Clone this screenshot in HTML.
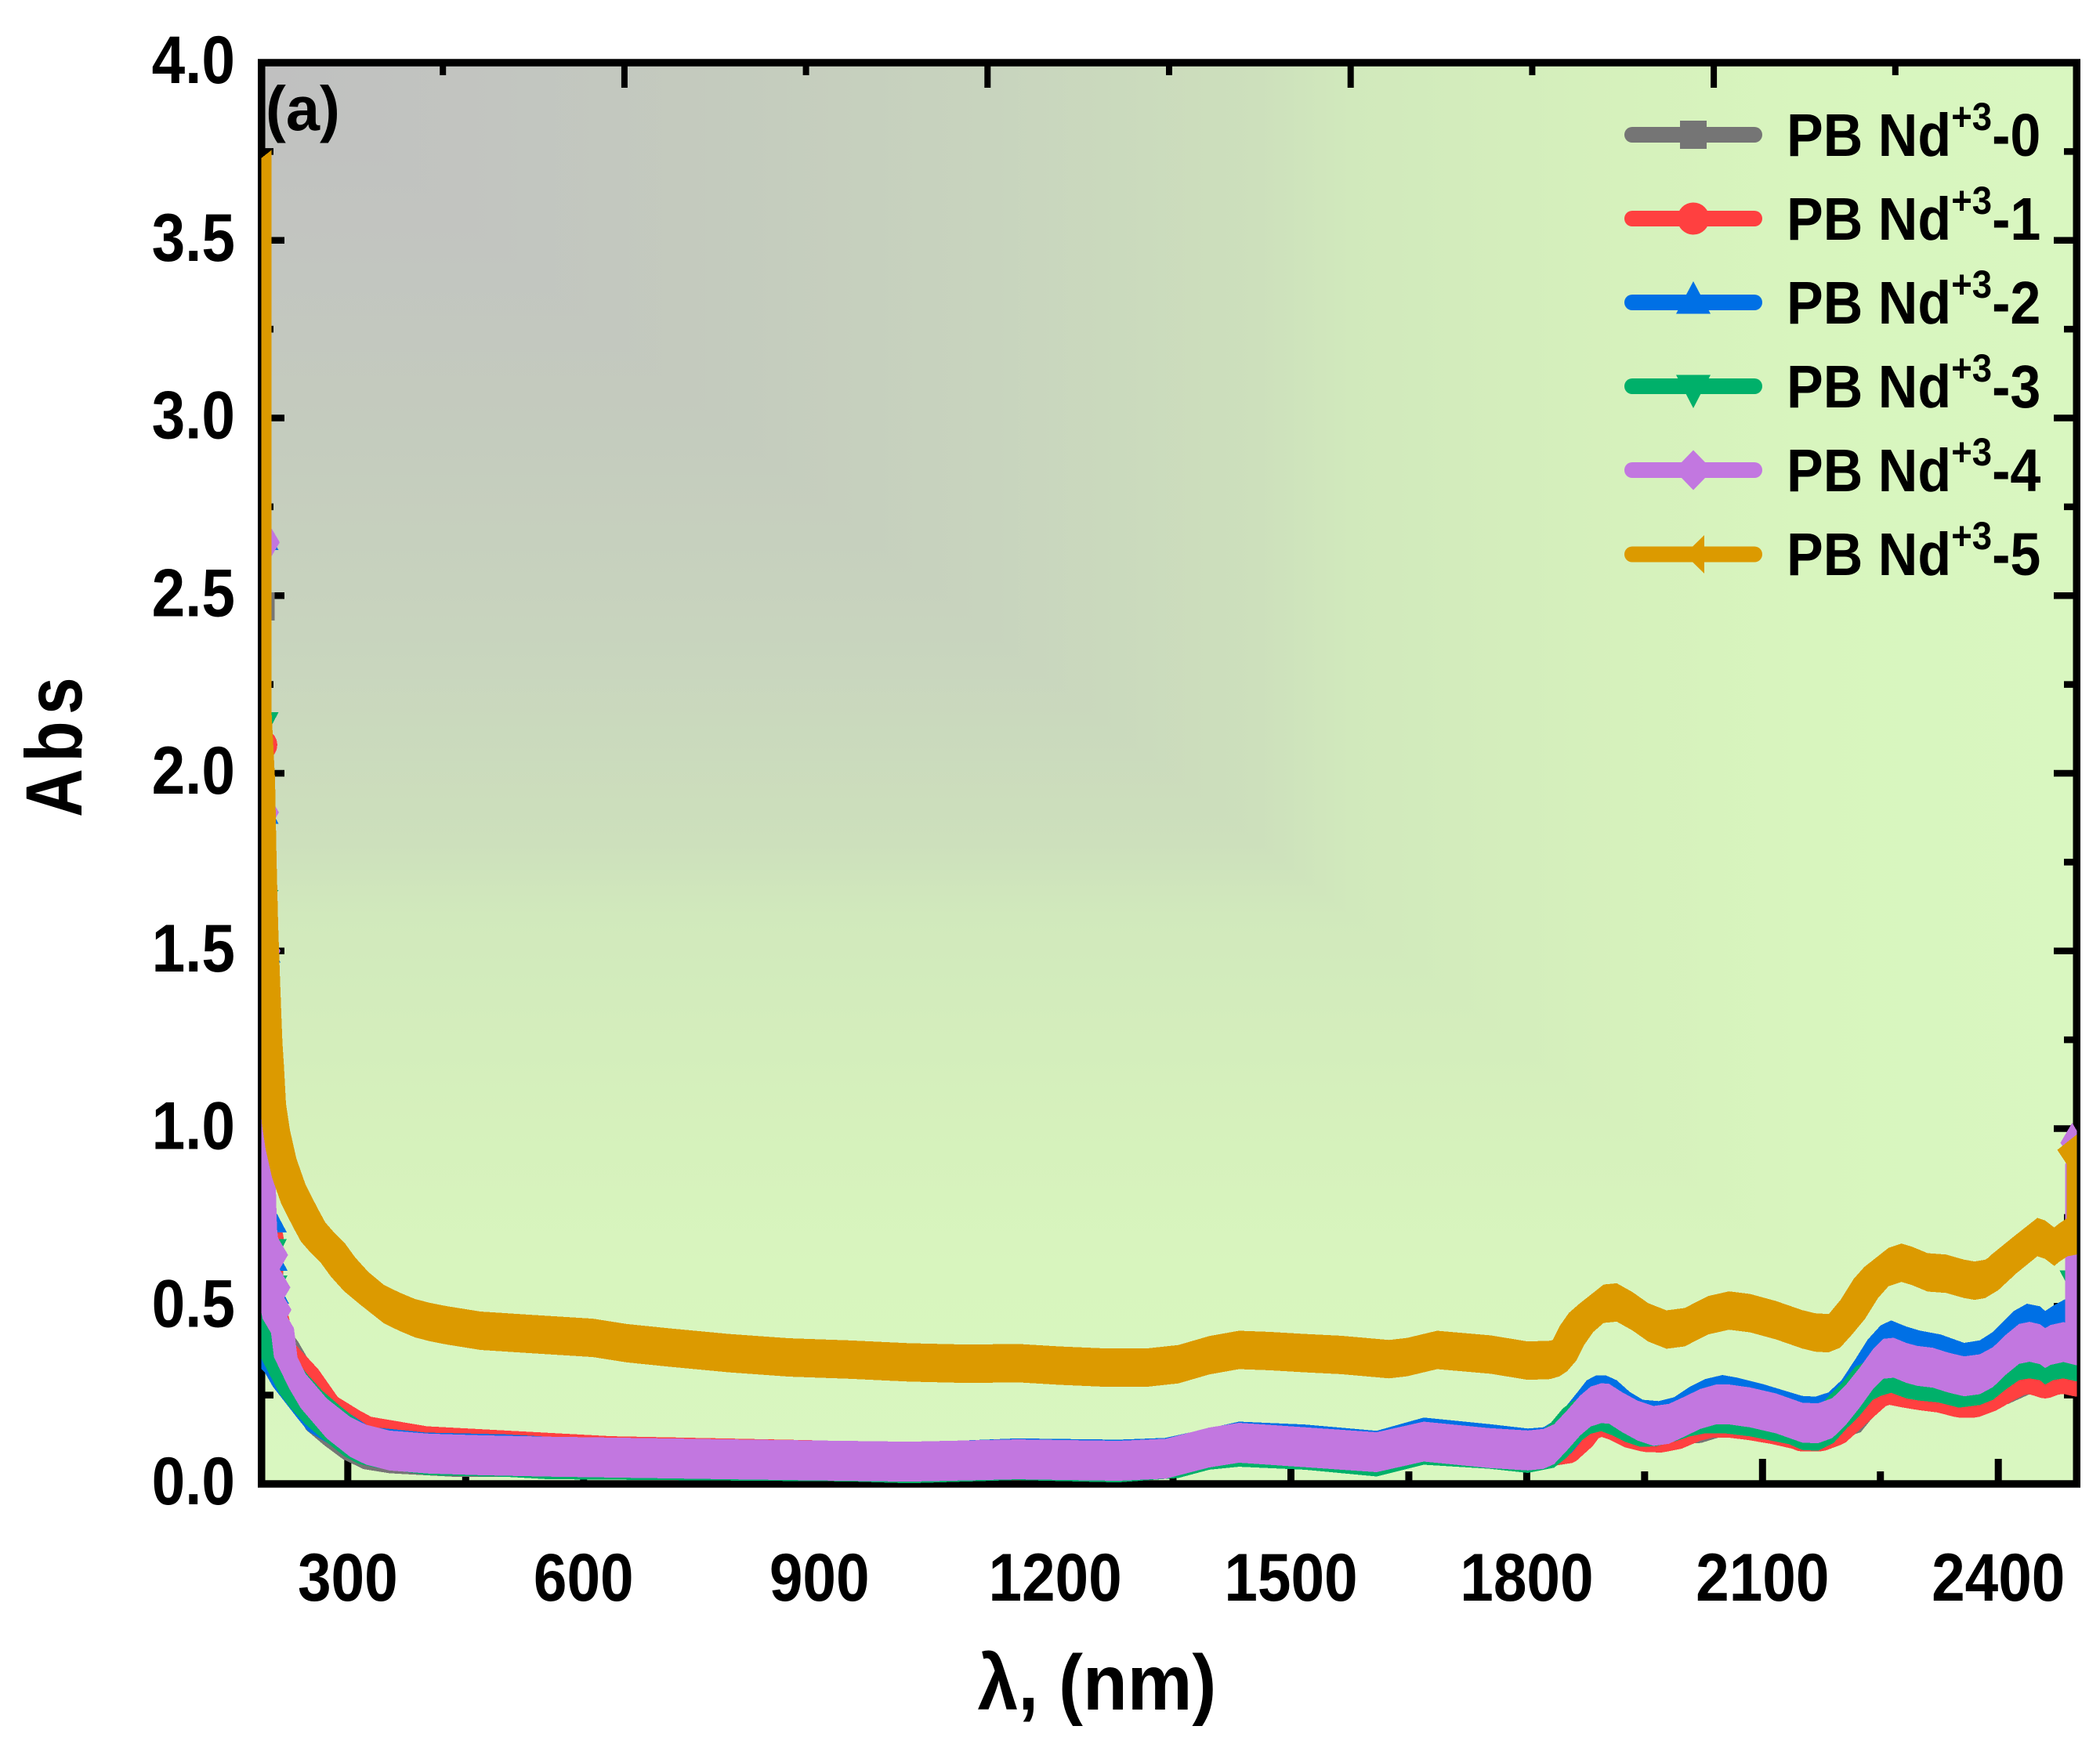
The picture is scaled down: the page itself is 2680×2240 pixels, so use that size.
<!DOCTYPE html>
<html lang="en">
<head>
<meta charset="utf-8">
<title>Abs vs wavelength</title>
<style>
html,body{margin:0;padding:0;background:#fff;}
svg{display:block;}
text{font-family:"Liberation Sans",Arial,sans-serif;font-weight:700;fill:#000;}
</style>
</head>
<body>
<svg id="chart" xmlns="http://www.w3.org/2000/svg" width="2680" height="2240" viewBox="0 0 2680 2240">
  <defs>
    <linearGradient id="bgH" gradientUnits="userSpaceOnUse" x1="338" y1="0" x2="2646" y2="0">
      <stop offset="0" stop-color="#c0c0c0"/>
      <stop offset="0.13" stop-color="#c2c5c0"/>
      <stop offset="0.25" stop-color="#c4cbbe"/>
      <stop offset="0.4" stop-color="#c8d4be"/>
      <stop offset="0.55" stop-color="#cde0bc"/>
      <stop offset="0.6" stop-color="#d1e9bc"/>
      <stop offset="0.75" stop-color="#d6f1bc"/>
      <stop offset="0.85" stop-color="#d8f5be"/>
      <stop offset="1" stop-color="#d9f7c0"/>
    </linearGradient>
    <linearGradient id="bgV" gradientUnits="userSpaceOnUse" x1="0" y1="85" x2="0" y2="1889">
      <stop offset="0" stop-color="#c0c0c0"/>
      <stop offset="0.13" stop-color="#c2c5c0"/>
      <stop offset="0.25" stop-color="#c4cbbe"/>
      <stop offset="0.4" stop-color="#c8d4be"/>
      <stop offset="0.55" stop-color="#cde0bc"/>
      <stop offset="0.6" stop-color="#d1e9bc"/>
      <stop offset="0.75" stop-color="#d6f1bc"/>
      <stop offset="0.85" stop-color="#d8f5be"/>
      <stop offset="1" stop-color="#d9f7c0"/>
    </linearGradient>
    <clipPath id="plotClip"><rect x="333.5" y="80" width="2317" height="1814"/></clipPath>
  </defs>
  <g>
    <rect x="333.5" y="80" width="2317" height="1814" fill="#d9f7c0"/>
    <polygon points="333.5,80 2650.5,80 2650.5,1892 " fill="url(#bgH)" shape-rendering="crispEdges"/>
    <polygon points="333.5,80 2650.5,1892 2650.5,1894 333.5,1894" fill="url(#bgV)" shape-rendering="crispEdges"/>
  </g>
  <g id="ticks"></g>
  <rect x="333.75" y="80" width="2316.5" height="1814" fill="none" stroke="#000" stroke-width="9.5"/>
  <g id="tickLabels"></g>
  <g id="series" clip-path="url(#plotClip)"></g>

  <text transform="translate(339 166) scale(.97 1)" font-size="80">(a)</text>
  <text transform="translate(104 1043) rotate(-90) scale(.84 1)" font-size="102" letter-spacing="10">Abs</text>
  <text transform="translate(1400 2182) scale(.93 1)" font-size="100" text-anchor="middle">λ, (nm)</text>

  <g>
    <g>
      <line x1="2083" x2="2239" y1="172" y2="172" stroke="#757575" stroke-width="20" stroke-linecap="round"/>
      <rect x="2144" y="154" width="34" height="36" fill="#757575"/>
      <text transform="translate(2280 199) scale(.91 1)" font-size="77">PB Nd<tspan font-size="50" dy="-33">+3</tspan><tspan font-size="77" dy="33">-0</tspan></text>
    </g>
    <g>
      <line x1="2083" x2="2239" y1="279" y2="279" stroke="#ff4040" stroke-width="20" stroke-linecap="round"/>
      <circle cx="2161" cy="279" r="20.5" fill="#ff4040"/>
      <text transform="translate(2280 306) scale(.91 1)" font-size="77">PB Nd<tspan font-size="50" dy="-33">+3</tspan><tspan font-size="77" dy="33">-1</tspan></text>
    </g>
    <g>
      <line x1="2083" x2="2239" y1="386" y2="386" stroke="#0070e5" stroke-width="20" stroke-linecap="round"/>
      <polygon points="2161,359 2183,400.5 2139,400.5" fill="#0070e5"/>
      <text transform="translate(2280 413) scale(.91 1)" font-size="77">PB Nd<tspan font-size="50" dy="-33">+3</tspan><tspan font-size="77" dy="33">-2</tspan></text>
    </g>
    <g>
      <line x1="2083" x2="2239" y1="493" y2="493" stroke="#00b06a" stroke-width="20" stroke-linecap="round"/>
      <polygon points="2161,521 2183,478.5 2139,478.5" fill="#00b06a"/>
      <text transform="translate(2280 520) scale(.91 1)" font-size="77">PB Nd<tspan font-size="50" dy="-33">+3</tspan><tspan font-size="77" dy="33">-3</tspan></text>
    </g>
    <g>
      <line x1="2083" x2="2239" y1="600" y2="600" stroke="#c277e0" stroke-width="20" stroke-linecap="round"/>
      <polygon points="2161,574.5 2176,590 2176,610 2161,625.5 2146,610 2146,590" fill="#c277e0"/>
      <text transform="translate(2280 627) scale(.91 1)" font-size="77">PB Nd<tspan font-size="50" dy="-33">+3</tspan><tspan font-size="77" dy="33">-4</tspan></text>
    </g>
    <g>
      <line x1="2083" x2="2239" y1="707.5" y2="707.5" stroke="#dc9a00" stroke-width="20" stroke-linecap="round"/>
      <polygon points="2150,707.5 2175,683 2175,732" fill="#dc9a00"/>
      <text transform="translate(2280 734) scale(.91 1)" font-size="77">PB Nd<tspan font-size="50" dy="-33">+3</tspan><tspan font-size="77" dy="33">-5</tspan></text>
    </g>
  </g>
</svg>
<script>
/* axis tick values */
const xMajorTicks = [300, 600, 900, 1200, 1500, 1800, 2100, 2400];
const xMinorTicks = [450, 750, 1050, 1350, 1650, 1950, 2250];
const topTicks = [421, 652, 883, 1114, 1345, 1576, 1807, 2038, 2269];
const yMajorTicks = [0, 0.5, 1, 1.5, 2, 2.5, 3, 3.5, 4];
const yMinorTicks = [0.25, 0.75, 1.25, 1.75, 2.25, 2.75, 3.25, 3.75];
const xTickLabels = ["300", "600", "900", "1200", "1500", "1800", "2100", "2400"];
const yTickLabels = ["0.0", "0.5", "1.0", "1.5", "2.0", "2.5", "3.0", "3.5", "4.0"];

/* PB Nd+3-0 */
const s0Nm = [190,220,264,287,311,337,370,450,600,900,1200,1400,1434,1518,1609,1669,1752,1801,1834.5,1848,1871,1896,1920,1950,2005,2049,2099,2158,2208,2230,2258,2322,2362,2396,2441,2481,2500];
const s0Abs = [0.45,0.36,0.1917,0.1484,0.109,0.0814,0.0696,0.06,0.058,0.055,0.06,0.09,0.1,0.095,0.08,0.105,0.09,0.085,0.0963,0.1257,0.165,0.19,0.17,0.15,0.155,0.185,0.17,0.15,0.185,0.245,0.285,0.265,0.245,0.265,0.31,0.31,0.305];
const s0SpikeNm = [190,190,198.5,201];
const s0SpikeAbs = [2.47,1.82,0.698,0.6];

/* PB Nd+3-1 */
const s1Nm = [190,198,204,215,246,273,303,323,400,635,885,1100,1300,1396,1434,1518,1609,1669,1752,1801,1851.4,1868,1878,1894.6,1911.3,1931.2,1951.1,1971,1991,2014.3,2034.2,2057.5,2084,2117.3,2143.9,2150.6,2173.9,2193.8,2210.4,2230.4,2247,2260.3,2283.5,2300.1,2326.7,2350,2369.9,2389.9,2409.8,2426.4,2439.7,2453,2459.6,2472.9,2486.2,2500];
const s1Abs = [0.7,0.55,0.47,0.37,0.296,0.211,0.17,0.146,0.117,0.089,0.078,0.066,0.066,0.095,0.105,0.098,0.08,0.105,0.09,0.085,0.1018,0.1349,0.1643,0.1805,0.168,0.1459,0.1349,0.1334,0.1422,0.1643,0.1753,0.1753,0.168,0.1555,0.1422,0.1363,0.137,0.1532,0.1863,0.2268,0.2598,0.2687,0.2584,0.2525,0.2451,0.2319,0.2319,0.2488,0.2745,0.2929,0.2988,0.2907,0.2856,0.2966,0.298,0.2907];
const s1SpikeNm = [190,190,198,197.5];
const s1SpikeAbs = [2.08,1.61,0.692,0.6];

/* PB Nd+3-2 */
const s2Nm = [190,192,216.5,226.5,258.5,271.5,301,328,400,500,555,785,1014,1152,1280,1340,1434,1518,1609,1669,1752,1801.6,1821.5,1834.8,1851.4,1864.7,1876.4,1888,1901.3,1914.6,1931.2,1947.8,1967.8,1987.7,2007.6,2027.6,2049.2,2067.4,2100.7,2133.9,2150.6,2167.2,2183.8,2200.4,2217,2233.7,2250.3,2263.6,2283.5,2300.1,2326.7,2356.6,2376.6,2393.2,2406.5,2419.8,2436.4,2453,2459.6,2469.6,2487.9,2500];
const s2Abs = [0.5,0.4,0.345,0.306,0.2153,0.18,0.1405,0.1011,0.085,0.08,0.0735,0.065,0.057,0.0685,0.065,0.07,0.1157,0.1075,0.09,0.1273,0.109,0.0963,0.0999,0.1184,0.1625,0.1992,0.2323,0.2455,0.2455,0.2323,0.1992,0.1772,0.1735,0.1845,0.2139,0.236,0.247,0.2396,0.2213,0.1992,0.1882,0.186,0.1977,0.2323,0.2874,0.3462,0.3866,0.4006,0.383,0.3719,0.3609,0.3374,0.3447,0.3683,0.3977,0.4271,0.4476,0.4403,0.4271,0.4418,0.4638,0.5];
const s2SpikeNm = [190,190,192.5,200.5,201.5,203.5,204.5];
const s2SpikeAbs = [2.66,1.89,1.5,0.74,0.632,0.539,0.487];

/* PB Nd+3-3 */
const s3Nm = [190,195,213,226.5,246,269,296,313,336,403,503,555,938,1014,1150,1280,1357,1396,1434,1518,1609,1669,1752,1801.6,1834.8,1851.4,1868,1881.4,1894.6,1908,1924.6,1944.5,1964.4,1987.7,2007.6,2027.6,2050.8,2084,2117.3,2133.9,2150.6,2170.5,2190.5,2207.1,2223.7,2240.3,2250.3,2263.6,2283.5,2300.1,2323.4,2350,2376.6,2393.2,2409.8,2426.4,2439.7,2453,2459.6,2469.6,2482.9,2500];
const s3Abs = [0.45,0.395,0.316,0.2767,0.2295,0.186,0.139,0.119,0.1074,0.086,0.0815,0.075,0.0685,0.0635,0.0726,0.066,0.0784,0.1016,0.11,0.1016,0.0826,0.1157,0.1045,0.0926,0.1073,0.1367,0.1808,0.2029,0.2102,0.1992,0.1808,0.1661,0.1676,0.1808,0.1955,0.2043,0.2043,0.1955,0.1808,0.1735,0.1573,0.155,0.1772,0.2176,0.2543,0.2984,0.3094,0.3183,0.3021,0.2962,0.291,0.2764,0.2837,0.2984,0.3278,0.3536,0.3587,0.3536,0.3411,0.3536,0.3587,0.3499];
const s3SpikeNm = [190,190,192.5,200.5,201.5,2500];
const s3SpikeAbs = [2.14,1.64,1.325,0.657,0.555,0.569];

/* PB Nd+3-4 */
const s4Nm = [190,192,195,197,197.5,200.5,206.5,216.5,221,240,273,303,323,353,403,470,555,785,1014,1152,1280,1341,1396,1434,1518,1609,1669,1752,1801.6,1821.5,1834.8,1851.4,1868,1881.4,1894.6,1904.6,1921.2,1941.2,1961.1,1981,2001,2020.9,2040.9,2057.5,2084,2117.3,2150.6,2170.5,2188.8,2205.4,2223.7,2240.3,2253.6,2266.9,2283.5,2296.8,2316.8,2336.7,2356.6,2376.6,2393.2,2409.8,2426.4,2439.7,2453,2459.6,2466.3,2482.9,2500,2500];
const s4Abs = [1.3,0.95,0.72,0.68,0.6,0.53,0.465,0.4385,0.357,0.27,0.1846,0.1326,0.1106,0.094,0.0854,0.0806,0.0767,0.0693,0.0626,0.0693,0.065,0.071,0.1025,0.1157,0.1033,0.0892,0.119,0.101,0.0941,0.0985,0.1117,0.1507,0.1926,0.2176,0.2271,0.2257,0.2021,0.1779,0.1632,0.1691,0.1896,0.211,0.2235,0.2235,0.2154,0.1985,0.1724,0.1705,0.1852,0.2205,0.2712,0.3219,0.3521,0.355,0.3403,0.3322,0.3271,0.3131,0.3028,0.3087,0.3286,0.3638,0.394,0.3999,0.3932,0.3822,0.391,0.3991,0.3896,0.9];
const s4SpikeNm = [198.5,197.5,199.5,209,212,213.4,2494];
const s4SpikeAbs = [2.65,1.89,1.5,0.6445,0.5528,0.49,0.96];

/* PB Nd+3-5 */
const s5Nm = [190,190,194.5,196.5,198.5,200.5,202.5,204,206,208.4,213.4,221.7,233.4,248.4,258.3,270,283.3,296.6,313.2,333.1,353,373,392.9,412.9,456,522,599,642,696,772,849,925,1001,1077,1139,1192,1245,1306,1344,1383,1421,1459,1505,1551,1612,1635,1673,1741,1788.6,1817,1828.5,1838.5,1850,1860,1871.7,1885,1901.6,1921.6,1941.5,1964.8,1988,2018,2044.5,2071,2104,2137.6,2154,2170.9,2185.8,2200.8,2217.4,2234,2247.3,2263.9,2277.2,2297.1,2320.4,2343.7,2357,2370.3,2386.9,2410.1,2436.7,2446.7,2458.3,2465,2475,2488,2505,2505,2493];
const s5Abs = [3.7,2.12,1.93,1.7,1.52,1.39,1.27,1.186,1.118,1.0157,0.9421,0.8613,0.7878,0.7226,0.6822,0.6528,0.6234,0.583,0.5425,0.5058,0.4844,0.466,0.455,0.4462,0.431,0.4216,0.411,0.396,0.384,0.368,0.356,0.35,0.342,0.338,0.34,0.333,0.328,0.328,0.337,0.362,0.377,0.374,0.368,0.363,0.351,0.357,0.377,0.364,0.3469,0.3491,0.3565,0.3712,0.4006,0.4447,0.4815,0.5072,0.5108,0.4859,0.455,0.4344,0.441,0.4748,0.488,0.4807,0.4609,0.4351,0.4263,0.4241,0.4373,0.4741,0.5182,0.577,0.6101,0.6226,0.6137,0.5954,0.5917,0.577,0.5719,0.577,0.5991,0.6468,0.6946,0.6873,0.6674,0.6799,0.6946,0.7,0.72,0.9,0.94];
const s5SpikeNm = [];
const s5SpikeAbs = [];

const SVGNS = "http://www.w3.org/2000/svg";
const xScale = nm => 333.5 + (nm - 190) * (2317 / 2310);
const yScale = v => 1894 - v * 453.5;

const ticksGroup = document.getElementById("ticks");
const labelsGroup = document.getElementById("tickLabels");
const seriesGroup = document.getElementById("series");

function tickLine(x1, y1, x2, y2, w) {
  const l = document.createElementNS(SVGNS, "line");
  l.setAttribute("x1", x1);
  l.setAttribute("y1", y1);
  l.setAttribute("x2", x2);
  l.setAttribute("y2", y2);
  l.setAttribute("stroke", "#000");
  l.setAttribute("stroke-width", w);
  
  
  ticksGroup.appendChild(l);
}

xMajorTicks.forEach(v => tickLine(xScale(v), 1894, xScale(v), 1862, 9));
xMinorTicks.forEach(v => tickLine(xScale(v), 1894, xScale(v), 1878, 9));
topTicks.forEach((v, i) => tickLine(xScale(v), 80, xScale(v), i % 2 ? 112 : 96, 8));
yMajorTicks.forEach(v => {
  tickLine(333.5, yScale(v), 363, yScale(v), 8.6);
  tickLine(2650.5, yScale(v), 2621, yScale(v), 8.6);
});
yMinorTicks.forEach(v => {
  tickLine(333.5, yScale(v), 349, yScale(v), 8.6);
  tickLine(2650.5, yScale(v), 2634, yScale(v), 8.6);
});

xMajorTicks.forEach((v, i) => {
  const t = document.createElementNS(SVGNS, "text");
  t.setAttribute("transform", "translate(" + xScale(v) + " 2043) scale(.89 1)");
  t.setAttribute("font-size", "86");
  t.setAttribute("text-anchor", "middle");
  
  
  t.textContent = xTickLabels[i];
  labelsGroup.appendChild(t);
});
yMajorTicks.forEach((v, i) => {
  const t = document.createElementNS(SVGNS, "text");
  t.setAttribute("transform", "translate(300 " + (yScale(v) + 26) + ") scale(.89 1)");
  t.setAttribute("font-size", "86");
  t.setAttribute("text-anchor", "end");
  
  
  t.textContent = yTickLabels[i];
  labelsGroup.appendChild(t);
});

/* marker outlines in px around a data point */
const circleShape = [];
for (let i = 0; i < 20; i++) {
  circleShape.push([20.5 * Math.cos(i * Math.PI / 10), 20.5 * Math.sin(i * Math.PI / 10)]);
}
const squareShape = [[-17, -18], [17, -18], [17, 18], [-17, 18]];
const upShape = [[0, -27], [22, 14.5], [-22, 14.5]];
const downShape = [[0, 28], [22, -14.5], [-22, -14.5]];
const diamondShape = [[0, -25.5], [15, 0], [0, 25.5], [-15, 0]];
const leftShape = [[-18, 0], [13, -24.5], [13, 24.5]];

function hull(pts) {
  const p = pts.slice().sort((a, b) => a[0] - b[0] || a[1] - b[1]);
  const cross = (o, a, b) => (a[0] - o[0]) * (b[1] - o[1]) - (a[1] - o[1]) * (b[0] - o[0]);
  const lower = [];
  for (const q of p) {
    while (lower.length >= 2 && cross(lower[lower.length - 2], lower[lower.length - 1], q) <= 0) lower.pop();
    lower.push(q);
  }
  const upper = [];
  for (let i = p.length - 1; i >= 0; i--) {
    const q = p[i];
    while (upper.length >= 2 && cross(upper[upper.length - 2], upper[upper.length - 1], q) <= 0) upper.pop();
    upper.push(q);
  }
  lower.pop();
  upper.pop();
  return lower.concat(upper);
}

function placed(shape, cx, cy) {
  return shape.map(s => [cx + s[0], cy + s[1]]);
}

function subpath(pts) {
  return "M" + hull(pts).map(q => q[0].toFixed(1) + " " + q[1].toFixed(1)).join("L") + "Z";
}

function seriesPath(nm, abs, spikeNm, spikeAbs, shape) {
  let d = "";
  for (let i = 0; i < nm.length; i++) {
    const x = xScale(nm[i]);
    const y = yScale(abs[i]);
    if (i + 1 < nm.length) {
      d += subpath(placed(shape, x, y).concat(placed(shape, xScale(nm[i + 1]), yScale(abs[i + 1]))));
    } else {
      d += subpath(placed(shape, x, y));
    }
  }
  for (let j = 0; j < spikeNm.length; j++) {
    d += subpath(placed(shape, xScale(spikeNm[j]), yScale(spikeAbs[j])));
  }
  return d;
}

function drawSeries(name, color, nm, abs, spikeNm, spikeAbs, shape) {
  const p = document.createElementNS(SVGNS, "path");
  p.setAttribute("d", seriesPath(nm, abs, spikeNm, spikeAbs, shape));
  p.setAttribute("fill", color);
  p.setAttribute("fill-rule", "nonzero");
  p.setAttribute("shape-rendering", "crispEdges");
  
  
  seriesGroup.appendChild(p);
}

drawSeries("series-pb-nd-0", "#757575", s0Nm, s0Abs, s0SpikeNm, s0SpikeAbs, squareShape);
drawSeries("series-pb-nd-1", "#ff4040", s1Nm, s1Abs, s1SpikeNm, s1SpikeAbs, circleShape);
drawSeries("series-pb-nd-2", "#0070e5", s2Nm, s2Abs, s2SpikeNm, s2SpikeAbs, upShape);
drawSeries("series-pb-nd-3", "#00b06a", s3Nm, s3Abs, s3SpikeNm, s3SpikeAbs, downShape);
drawSeries("series-pb-nd-4", "#c277e0", s4Nm, s4Abs, s4SpikeNm, s4SpikeAbs, diamondShape);
drawSeries("series-pb-nd-5", "#dc9a00", s5Nm, s5Abs, s5SpikeNm, s5SpikeAbs, leftShape);
</script>
</body>
</html>
